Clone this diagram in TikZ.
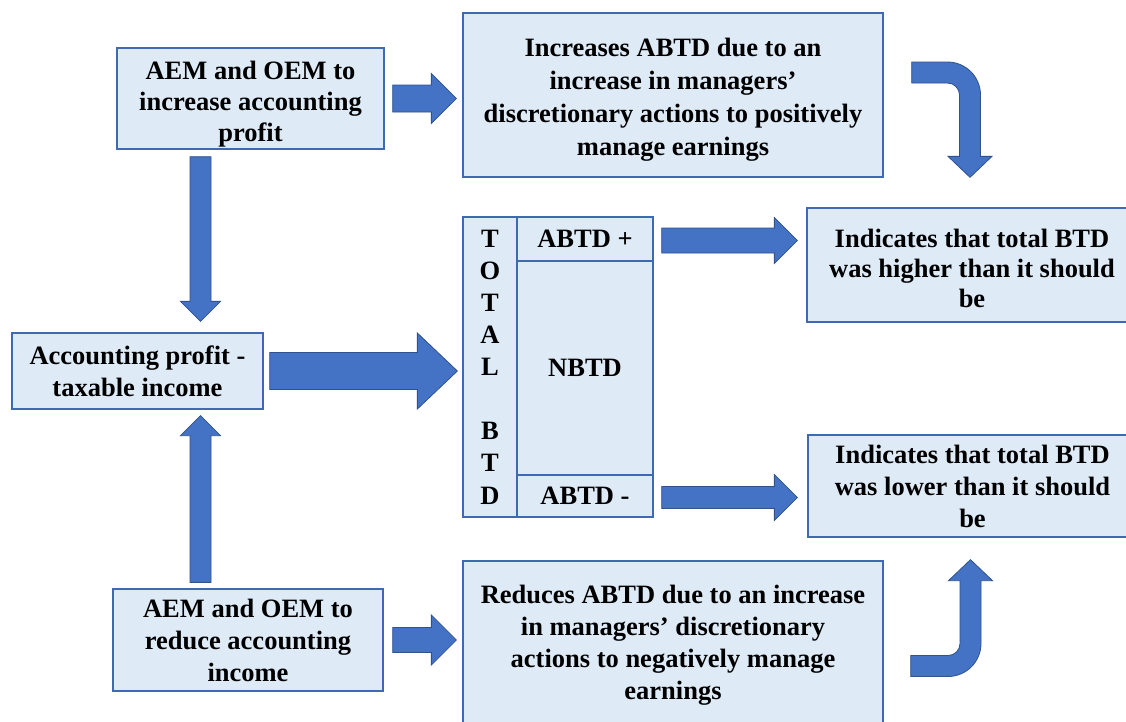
\documentclass[tikz,border=0pt]{standalone}
\usepackage{fontspec}
\setmainfont{Liberation Serif}
\usetikzlibrary{calc}
\definecolor{boxfill}{HTML}{DEEBF7}
\definecolor{boxline}{HTML}{3D6AB3}
\definecolor{arrfill}{HTML}{4472C4}
\definecolor{arrline}{HTML}{2F528F}
\tikzset{
  box/.style={draw=boxline, fill=boxfill, line width=1.3pt, inner sep=0pt, align=center,
    font=\bfseries\fontsize{26.5}{32}\selectfont},
  fatarrow/.style={fill=arrfill, draw=arrline, line width=0.8pt, line join=miter}
}
\newcommand\fatright[5]{\path[fatarrow] let \p1=(#1), \p2=(#2) in
  (\x1,\y1+#3) -- (\x2-#5,\y1+#3) -- (\x2-#5,\y1+#4) -- (\x2,\y1) -- (\x2-#5,\y1-#4) -- (\x2-#5,\y1-#3) -- (\x1,\y1-#3) -- cycle;}
\newcommand\fatdown[5]{\path[fatarrow] let \p1=(#1), \p2=(#2) in
  (\x1-#3,\y1) -- (\x1-#3,\y2+#5) -- (\x1-#4,\y2+#5) -- (\x1,\y2) -- (\x1+#4,\y2+#5) -- (\x1+#3,\y2+#5) -- (\x1+#3,\y1) -- cycle;}
\newcommand\fatup[5]{\path[fatarrow] let \p1=(#1), \p2=(#2) in
  (\x1-#3,\y1) -- (\x1-#3,\y2-#5) -- (\x1-#4,\y2-#5) -- (\x1,\y2) -- (\x1+#4,\y2-#5) -- (\x1+#3,\y2-#5) -- (\x1+#3,\y1) -- cycle;}
% text block lowered by #1 without changing the node size
\newcommand\lowered[2]{\raisebox{-#1}[\height][\depth]{\begin{tabular}{@{}c@{}}#2\end{tabular}}}
\begin{document}
\begin{tikzpicture}[x=1pt,y=-1pt]
\useasboundingbox (0,0) rectangle (1126,721);
\clip (0,0) rectangle (1126,721);
\fill[white] (0,0) rectangle (1126,721);
% boxes
\node[box, minimum width=267pt, minimum height=101pt, font=\bfseries\fontsize{26.5}{31}\selectfont] (A) at (250.5,98.5) {\lowered{6pt}{AEM and OEM to\\increase accounting\\profit}};
\node[box, minimum width=420pt, minimum height=164pt, font=\bfseries\fontsize{26.5}{33}\selectfont] (B) at (673,95) {\lowered{4pt}{Increases ABTD due to an\\increase in managers’\\discretionary actions to positively\\manage earnings}};
\node[box, minimum width=251pt, minimum height=76pt] (C) at (137.5,371) {Accounting profit -\\taxable income};
\node[box, minimum width=54pt, minimum height=300pt, font=\bfseries\fontsize{26.5}{32.1}\selectfont] (TOT) at (490,367) {T\\O\\T\\A\\L\\\mbox{}\\B\\T\\D};
\node[box, minimum width=136pt, minimum height=44pt] (P) at (585,239) {ABTD +};
\node[box, minimum width=136pt, minimum height=214pt] (N) at (585,368) {NBTD};
\node[box, minimum width=136pt, minimum height=42pt] (M) at (585,496) {ABTD -};
\node[box, minimum width=330pt, minimum height=114pt, font=\bfseries\fontsize{26.5}{30}\selectfont] (D) at (972,265) {\lowered{6.5pt}{Indicates that total BTD\\was higher than it should\\be}};
\node[box, minimum width=329pt, minimum height=102pt] (E) at (972.5,486) {Indicates that total BTD\\was lower than it should\\be};
\node[box, minimum width=270pt, minimum height=102pt] (F) at (248,640) {AEM and OEM to\\reduce accounting\\income};
\node[box, minimum width=420pt, minimum height=168pt] (G) at (673,645) {Reduces ABTD due to an increase\\in managers’ discretionary\\actions to negatively manage\\earnings};
% straight block arrows
\fatright{[xshift=8pt]A.east}{[xshift=-6pt]B.west}{13.5pt}{25pt}{25pt}
\fatright{[xshift=9pt]F.east}{[xshift=-6pt]G.west}{12.5pt}{25pt}{25pt}
\fatright{[xshift=6pt]C.east}{[xshift=-5pt]TOT.west}{18.5pt}{38pt}{40pt}
\fatright{[xshift=8pt,yshift=-1.5pt]P.east}{[xshift=-9pt]D.west}{12.5pt}{23pt}{23pt}
\fatright{[xshift=8pt,yshift=-1.5pt]M.east}{[xshift=-10pt]E.west}{11pt}{23pt}{23pt}
\fatdown{[xshift=-50pt,yshift=-7pt]A.south}{[yshift=11pt]C.north}{10.5pt}{20pt}{20pt}
\fatup{[xshift=-47.5pt,yshift=6pt]F.north}{[yshift=-6pt]C.south}{10.5pt}{20pt}{20pt}
% bent arrow B -> D
\path[fatarrow] let \p1=([xshift=28pt,yshift=22.5pt]B.east), \p2=([xshift=-2pt,yshift=30pt]D.north) in
  (\x1,\y1+10.5pt) -- (\x2-22.5pt,\y1+10.5pt)
  .. controls (\x2-4.3pt,\y1+10.5pt) and (\x2+10.5pt,\y1-4.3pt) .. (\x2+10.5pt,\y1-22.5pt)
  -- (\x2+10.5pt,\y2+21pt) -- (\x2+22pt,\y2+21pt) -- (\x2,\y2) -- (\x2-22pt,\y2+21pt) -- (\x2-10.5pt,\y2+21pt)
  -- (\x2-10.5pt,\y1-22.5pt)
  .. controls (\x2-10.5pt,\y1-15.9pt) and (\x2-15.9pt,\y1-10.5pt) .. (\x2-22.5pt,\y1-10.5pt)
  -- (\x1,\y1-10.5pt) -- cycle;
% bent arrow G -> E
\path[fatarrow] let \p1=([xshift=27pt,yshift=-21pt]G.east), \p2=([xshift=-2pt,yshift=-22pt]E.south) in
  (\x1,\y1+10.5pt) -- (\x2-22.5pt,\y1+10.5pt)
  .. controls (\x2-15.9pt,\y1+10.5pt) and (\x2-10.5pt,\y1+15.9pt) .. (\x2-10.5pt,\y1+22.5pt)
  -- (\x2-10.5pt,\y2-21pt) -- (\x2-22pt,\y2-21pt) -- (\x2,\y2) -- (\x2+22pt,\y2-21pt) -- (\x2+10.5pt,\y2-21pt)
  -- (\x2+10.5pt,\y1+22.5pt)
  .. controls (\x2+10.5pt,\y1+4.3pt) and (\x2-4.3pt,\y1-10.5pt) .. (\x2-22.5pt,\y1-10.5pt)
  -- (\x1,\y1-10.5pt) -- cycle;
\end{tikzpicture}
\end{document}
